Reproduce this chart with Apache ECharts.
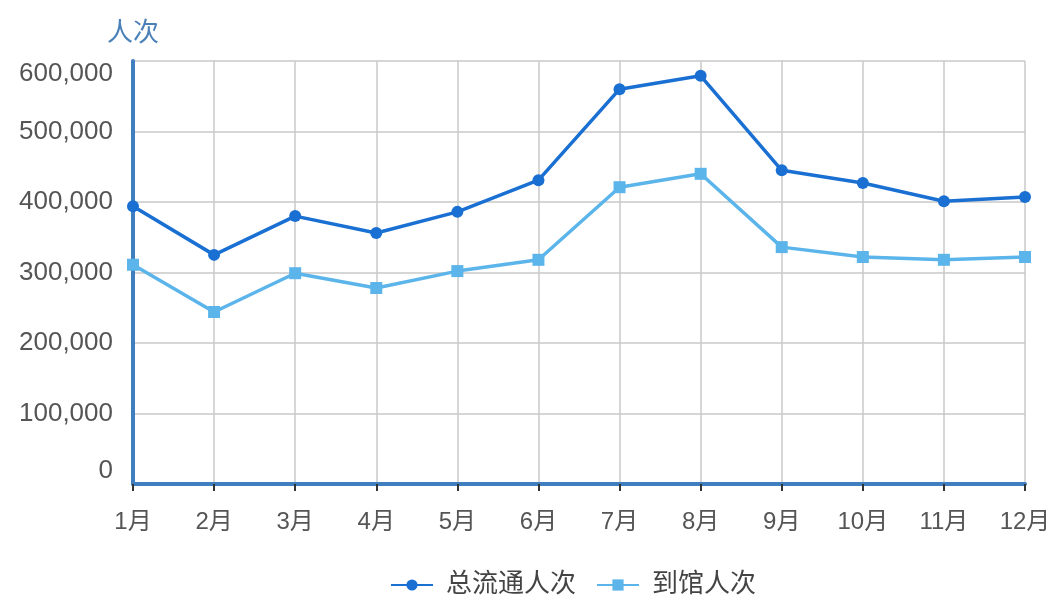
<!DOCTYPE html>
<html><head><meta charset="utf-8">
<script src="https://cdn.jsdelivr.net/npm/echarts@6/dist/echarts.min.js"></script>
<style>html,body{margin:0;padding:0;background:#fff}#c{width:1057px;height:601px}</style>
</head><body><div id="c"></div>
<script>
const categories = ['1月','2月','3月','4月','5月','6月','7月','8月','9月','10月','11月','12月'];
const totalCirculation = [394000, 325000, 380000, 356000, 386000, 431000, 560000, 579000, 445000, 427000, 401000, 407000];
const libraryVisits = [311000, 244000, 299000, 278000, 302000, 318000, 421000, 440000, 336000, 322000, 318000, 322000];
const seriesNames = ['总流通人次', '到馆人次'];
const yAxisName = '人次';

const font = '"Liberation Sans", "Noto Sans CJK SC", sans-serif';
const chart = echarts.init(document.getElementById('c'));
chart.setOption({
  animation: false,
  textStyle: {fontFamily: font},
  grid: {left: 133, right: 32, top: 61, bottom: 117, containLabel: false},
  legend: {
    top: 567, left: 385, itemGap: 20, itemWidth: 42, itemHeight: 14,
    textStyle: {fontSize: 26, color: '#444', fontFamily: font, padding: [0, 0, 0, 8]},
    data: seriesNames
  },
  xAxis: {
    type: 'category', data: categories, boundaryGap: false,
    axisLine: {lineStyle: {color: '#3f7fbf', width: 4}},
    axisTick: {show: true, length: 7, lineStyle: {color: '#333', width: 2}},
    axisLabel: {fontSize: 24, color: '#555', margin: 26, fontFamily: font},
    splitLine: {show: true, lineStyle: {color: '#c8c8c8', width: 1.5}}
  },
  yAxis: {
    type: 'value', min: 0, max: 600000, interval: 100000,
    name: yAxisName, nameLocation: 'end', nameGap: 14,
    nameTextStyle: {fontSize: 26, color: '#4a80b8', align: 'center', fontFamily: font},
    axisLine: {show: true, lineStyle: {color: '#3f7fbf', width: 4}},
    axisTick: {show: false},
    axisLabel: {
      fontSize: 26, color: '#555', margin: 20, fontFamily: font,
      verticalAlignMinLabel: 'bottom', verticalAlignMaxLabel: 'top',
      formatter: v => v.toLocaleString('en-US')
    },
    splitLine: {show: true, lineStyle: {color: '#c8c8c8', width: 1.5}}
  },
  series: [
    {
      name: seriesNames[0], type: 'line', data: totalCirculation,
      symbol: 'circle', symbolSize: 12,
      itemStyle: {color: '#1a70d2'},
      lineStyle: {color: '#1a70d2', width: 3.5}
    },
    {
      name: seriesNames[1], type: 'line', data: libraryVisits,
      symbol: 'rect', symbolSize: 12,
      itemStyle: {color: '#5bb5ea'},
      lineStyle: {color: '#5bb5ea', width: 3.5}
    }
  ]
});
</script>
</body></html>
